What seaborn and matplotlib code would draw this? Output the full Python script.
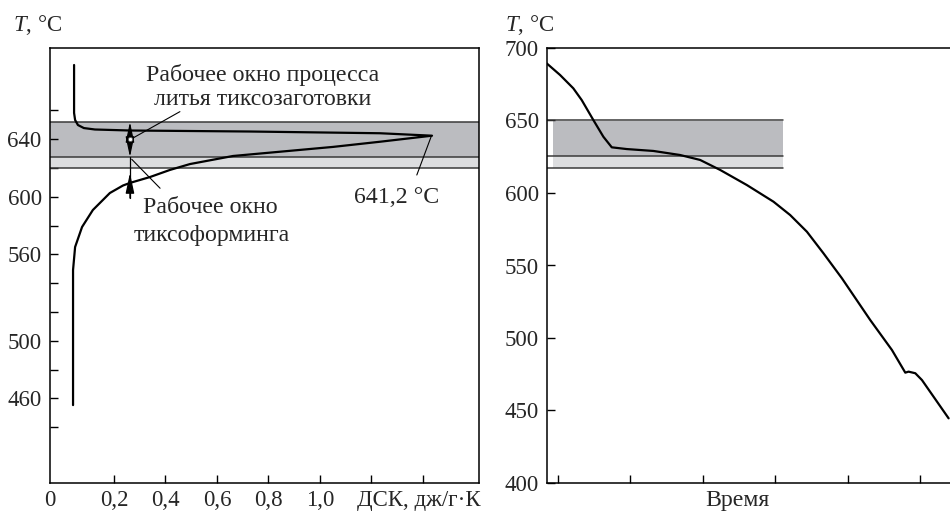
import matplotlib.pyplot as plt
import seaborn as sns
import pandas as pd

# Left panel: DSC curve (heat capacity vs temperature), traced from the top end
dsc_x = [0.045, 0.045, 0.049, 0.060, 0.083, 0.126, 0.262, 0.728, 1.233, 1.435,
         1.233, 1.050, 0.662, 0.495, 0.417, 0.340, 0.262, 0.235, 0.184, 0.118,
         0.076, 0.049, 0.041, 0.041]
dsc_t = [691.6, 658.3, 653.4, 649.9, 647.8, 646.8, 646.1, 645.4, 644.2, 642.5,
         638.3, 634.7, 628.4, 622.8, 618.7, 613.8, 609.7, 607.9, 602.7, 590.9,
         579.1, 565.2, 549.2, 455.4]
left_window = [652.0, 627.7, 620.0]  # top, middle, bottom of the shaded windows
left_yticks = [440, 460, 480, 500, 520, 540, 560, 580, 600, 620, 640, 660]
left_ylabels = ['', '460', '', '500', '', '', '560', '', '600', '', '640', '']
left_xticks = [0.2, 0.4, 0.6, 0.8, 1.0, 1.2, 1.4]
left_xlabels = ['0,2', '0,4', '0,6', '0,8', '1,0', '', '']

# Right panel: cooling curve
time = [-0.156, 0.028, 0.211, 0.327, 0.488, 0.626, 0.742, 0.949, 1.316, 1.685,
        1.961, 2.238, 2.606, 2.974, 3.204, 3.435, 3.664, 3.918, 4.309, 4.609,
        4.793, 4.838, 4.931, 5.023, 5.391]
temp = [689.4, 681.4, 672.2, 664.1, 650.3, 638.8, 631.5, 630.3, 629.0, 626.2,
        622.8, 615.9, 605.5, 594.0, 584.8, 573.3, 558.4, 541.2, 512.4, 491.7,
        476.1, 476.8, 475.7, 471.0, 444.6]
right_window = [650.0, 625.5, 617.0]
right_yticks = [400, 450, 500, 550, 600, 650, 700]
time_ticks = [0, 1, 2, 3, 4, 5]

sns.set_style('ticks')
plt.rcParams['font.family'] = ['Liberation Serif', 'DejaVu Serif']
plt.rcParams['mathtext.fontset'] = 'custom'
plt.rcParams['mathtext.rm'] = 'Liberation Serif'
plt.rcParams['mathtext.it'] = 'Liberation Serif:italic'
plt.rcParams['font.size'] = 16.5

dark = '#bbbcc0'
light = '#dcdddf'
edge = '#3a3a3a'
fs = 16.5     # tick labels
fs_txt = 17.2  # annotations

fig = plt.figure(figsize=(9.5, 5.15), dpi=100)
ax1 = fig.add_axes([50/950, 32/515, 429/950, 435/515])
ax2 = fig.add_axes([547/950, 32/515, 403/950, 435/515])

# ---- left panel ----
x0, x1 = -0.0485, 1.6175
ax1.set_xlim(x0, x1)
ax1.set_ylim(401.3, 703.4)
ax1.axhspan(left_window[1], left_window[0], color=dark, lw=0, zorder=0)
ax1.axhspan(left_window[2], left_window[1], color=light, lw=0, zorder=0)
for v in left_window:
    ax1.axhline(v, color=edge, lw=1.1, zorder=1)

df1 = pd.DataFrame({'dsc': dsc_x, 'T': dsc_t})
sns.lineplot(data=df1, x='dsc', y='T', sort=False, estimator=None,
             color='black', lw=1.6, ax=ax1, zorder=3)

# window arrows
ax_x = 0.262
ax1.annotate('', xy=(ax_x, left_window[0]), xytext=(ax_x, left_window[1]),
             arrowprops=dict(arrowstyle='<|-|>,head_length=0.75,head_width=0.16',
                             color='black', lw=0.9, shrinkA=0, shrinkB=0), zorder=4)
ax1.plot([ax_x, ax_x], [left_window[1], 599.2], color='black', lw=0.9, zorder=4)
ax1.annotate('', xy=(ax_x, 616.6), xytext=(ax_x, 599.2),
             arrowprops=dict(arrowstyle='-|>,head_length=0.75,head_width=0.16',
                             color='black', lw=0.9, shrinkA=0, shrinkB=0), zorder=4)
ax1.plot([ax_x], [640], marker='o', ms=3, mfc='white', mec='#555555', mew=0.6, zorder=5)

# leader lines
ax1.plot([0.456, 0.265], [659.2, 640.0], color='black', lw=0.8, zorder=4)
ax1.plot([0.379, 0.269], [606.0, 626.1], color='black', lw=0.8, zorder=4)
ax1.plot([1.376, 1.433], [615.2, 642.5], color='black', lw=0.8, zorder=4)

ax1.text(0.779, 684.6, 'Рабочее окно процесса', ha='center', va='center', fontsize=fs_txt)
ax1.text(0.779, 667.3, 'литья тиксозаготовки', ha='center', va='center', fontsize=fs_txt)
ax1.text(1.299, 599.9, '641,2 °C', ha='center', va='center', fontsize=fs_txt)
ax1.text(0.573, 592.3, 'Рабочее окно', ha='center', va='center', fontsize=fs_txt)
ax1.text(0.581, 573.5, 'тиксоформинга', ha='center', va='center', fontsize=fs_txt)

ax1.set_yticks(left_yticks)
ax1.set_yticklabels(left_ylabels)
ax1.set_xticks([x0] + left_xticks)
ax1.set_xticklabels(['0'] + left_xlabels)
ax1.xaxis.get_major_ticks()[0].tick1line.set_visible(False)
ax1.tick_params(direction='in', length=6, width=1, labelsize=fs, color='black')
ax1.tick_params(axis='y', pad=6)
ax1.tick_params(axis='x', pad=5)
ax1.annotate('ДСК, дж/г·К', xy=(1.144, 0), xycoords=('data', 'axes fraction'),
             xytext=(0, -5), textcoords='offset points', ha='left', va='top',
             fontsize=fs, annotation_clip=False)
ax1.set_xlabel('')
ax1.set_ylabel('')
for s in ax1.spines.values():
    s.set_visible(True)
    s.set_linewidth(1.1)
    s.set_color('black')

# ---- right panel ----
ax2.set_xlim(-0.152, 5.41)
ax2.set_ylim(400, 700)
band_x = [-0.069, 3.108]
ax2.fill_between(band_x, right_window[1], right_window[0], color=dark, lw=0, zorder=0)
ax2.fill_between(band_x, right_window[2], right_window[1], color=light, lw=0, zorder=0)
for v in right_window:
    ax2.plot([-0.152, band_x[1]], [v, v], color=edge, lw=1.1, zorder=1)

df2 = pd.DataFrame({'time': time, 'T': temp})
sns.lineplot(data=df2, x='time', y='T', sort=False, estimator=None,
             color='black', lw=1.6, ax=ax2, zorder=3)

ax2.set_yticks(right_yticks)
ax2.set_xticks(time_ticks)
ax2.set_xticklabels([])
ax2.tick_params(direction='in', length=6, width=1, labelsize=fs, color='black')
ax2.tick_params(axis='y', pad=6)
ax2.set_xlabel('')
ax2.set_ylabel('')
ax2.annotate('Время', xy=(2.47, 0), xycoords=('data', 'axes fraction'),
             xytext=(0, -5), textcoords='offset points', ha='center', va='top',
             fontsize=fs_txt, annotation_clip=False)
for k, s in ax2.spines.items():
    s.set_linewidth(1.1)
    s.set_color('black')
    s.set_visible(k != 'right')

fig.text(13/950, 1 - 25/515, r'$T$, °C', ha='left', va='center', fontsize=fs)
fig.text(505/950, 1 - 25/515, r'$T$, °C', ha='left', va='center', fontsize=fs)

fig.savefig('out.png', dpi=100)
